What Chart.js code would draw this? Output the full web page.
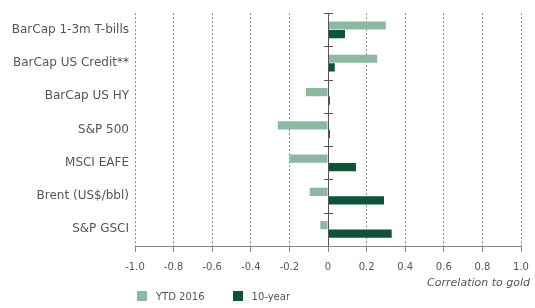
<!DOCTYPE html>
<html>
<head>
<meta charset="utf-8">
<script src="https://cdn.jsdelivr.net/npm/chart.js@4.4.0/dist/chart.umd.min.js"></script>
<style>
  body { margin: 0; background: #fff; }
  #wrap { position: relative; width: 535px; height: 308px; }
  #legend { position: absolute; left: 137px; top: 291px; font: 10px "DejaVu Sans", sans-serif; color: #555; }
  #legend span.item { display: inline-block; margin-right: 28px; }
  #legend span.box { display: inline-block; width: 10px; height: 10px; vertical-align: -1px; margin-right: 9px; }
  #axisTitle { position: absolute; right: 5px; top: 276px; font: italic 11px "DejaVu Sans", sans-serif; color: #555; }
</style>
</head>
<body>
<div id="wrap">
  <canvas id="myChart" width="535" height="308"></canvas>
  <div id="axisTitle">Correlation to gold</div>
  <div id="legend"></div>
</div>
<script>
var categories = [
  "BarCap 1-3m T-bills",
  "BarCap US Credit**",
  "BarCap US HY",
  "S&P 500",
  "MSCI EAFE",
  "Brent (US$/bbl)",
  "S&P GSCI"
];
var ytd2016 = [0.30, 0.255, -0.115, -0.26, -0.20, -0.095, -0.04];
var tenYear = [0.088, 0.035, 0.01, 0.01, 0.145, 0.29, 0.33];
var seriesNames = ["YTD 2016", "10-year"];
var seriesColors = ["#8db9a3", "#0d5437"];

// zero line with little marks between the categories
var zeroLine = {
  id: "zeroLine",
  afterDatasetsDraw: function(chart) {
    var ctx = chart.ctx;
    var x = chart.scales.x.getPixelForValue(0);
    var area = chart.chartArea;
    ctx.save();
    ctx.strokeStyle = "#555";
    ctx.lineWidth = 1;
    ctx.beginPath();
    ctx.moveTo(x + 0.5, area.top);
    ctx.lineTo(x + 0.5, area.bottom);
    var step = (area.bottom - area.top) / categories.length;
    for (var i = 0; i < categories.length; i++) {
      var y = Math.round(area.top + i * step) + 0.5;
      ctx.moveTo(x - 4, y);
      ctx.lineTo(x + 5, y);
    }
    ctx.stroke();
    ctx.restore();
  }
};

var ctx = document.getElementById("myChart");
var myChart = new Chart(ctx, {
  type: "bar",
  data: {
    labels: categories,
    datasets: [
      { label: seriesNames[0], data: ytd2016, backgroundColor: seriesColors[0] },
      { label: seriesNames[1], data: tenYear, backgroundColor: seriesColors[1] }
    ]
  },
  options: {
    indexAxis: "y",
    responsive: false,
    animation: false,
    categoryPercentage: 0.52,
    barPercentage: 0.95,
    layout: { padding: { top: 10, right: 14, bottom: 26, left: 4 } },
    plugins: { legend: { display: false }, tooltip: { enabled: false } },
    scales: {
      x: {
        min: -1, max: 1,
        ticks: {
          stepSize: 0.2,
          color: "#555",
          font: { family: "DejaVu Sans", size: 10 },
          padding: 9,
          callback: function(v) { return Math.abs(v) < 1e-9 ? "0" : v.toFixed(1); }
        },
        grid: {
          color: function(c) { return c.tick && Math.abs(c.tick.value) < 1e-9 ? "rgba(0,0,0,0)" : "#888"; },
          tickColor: "#888",
          tickLength: 6,
          tickBorderDash: []
        },
        border: { display: true, color: "#888", dash: [2, 2] },
        afterFit: function(scale) { scale.paddingRight = 0; }
      },
      y: {
        ticks: { color: "#555", font: { family: "DejaVu Sans", size: 12 }, padding: 6 },
        grid: { display: false, drawTicks: false, tickLength: 0 },
        border: { display: false },
        afterFit: function(scale) { scale.width = 131; }
      }
    }
  },
  plugins: [zeroLine]
});

var legend = document.getElementById("legend");
seriesNames.forEach(function(name, i) {
  legend.innerHTML += '<span class="item"><span class="box" style="background:' + seriesColors[i] + '"></span>' + name + '</span>';
});
</script>
</body>
</html>
